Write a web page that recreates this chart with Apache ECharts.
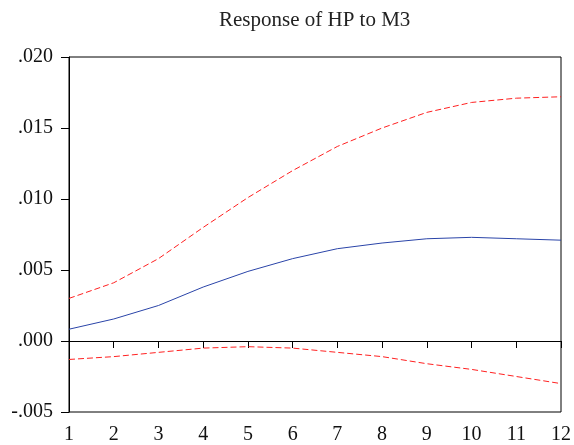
<!DOCTYPE html>
<html><head><meta charset="utf-8">
<script src="https://cdn.jsdelivr.net/npm/echarts@6/dist/echarts.min.js"></script>
<style>html,body{margin:0;padding:0;background:#fff}#c{width:574px;height:445px}</style>
</head><body><div id="c"></div>
<script>
const periods = ['1','2','3','4','5','6','7','8','9','10','11','12'];
const response = [0.00083,0.00155,0.0025,0.0038,0.0049,0.0058,0.0065,0.0069,0.0072,0.0073,0.0072,0.0071];
const upperBand = [0.0030,0.0041,0.0058,0.0080,0.0101,0.0120,0.0137,0.0150,0.0161,0.0168,0.0171,0.0172];
const lowerBand = [-0.0013,-0.0011,-0.0008,-0.0005,-0.0004,-0.0005,-0.0008,-0.0011,-0.0016,-0.0020,-0.0025,-0.0030];
const fmt = v => { const s = Math.abs(v).toFixed(3).replace(/^0/, ''); return (v < -1e-9 ? '-' : '') + s; };
const font = '"Liberation Serif", "Times New Roman", serif';
const chart = echarts.init(document.getElementById('c'), null, {renderer:'canvas'});
chart.setOption({
  animation:false,
  title:{text:'Response of HP to M3', left:214, top:5, textStyle:{fontFamily:font, fontSize:21, fontWeight:'normal', color:'#222'}},
  grid:{left:69, right:10, top:57, bottom:33, show:true, borderColor:'#000', borderWidth:1, backgroundColor:'transparent'},
  xAxis:{type:'category', data:periods, boundaryGap:false,
    axisLine:{lineStyle:{color:'#000', width:1}},
    axisTick:{show:true, inside:false, length:7, lineStyle:{color:'#000'}},
    axisLabel:{fontFamily:font, fontSize:20, color:'#111', margin:13},
    splitLine:{show:false}},
  yAxis:{type:'value', min:-0.005, max:0.020, interval:0.005,
    axisLine:{show:true, lineStyle:{color:'#000', width:1}},
    axisTick:{show:true, length:8, lineStyle:{color:'#000'}},
    axisLabel:{fontFamily:font, fontSize:20, color:'#111', margin:16, formatter:fmt},
    splitLine:{show:false}},
  series:[
    {type:'line', data:upperBand, symbol:'none', lineStyle:{color:'#ff2020', width:1, type:[6,3]},
      markLine:{silent:true, symbol:'none', label:{show:false}, lineStyle:{color:'#000', width:1, type:'solid'}, data:[{yAxis:0}]}},
    {type:'line', data:response, symbol:'none', lineStyle:{color:'#2a44a8', width:1, type:'solid'}},
    {type:'line', data:lowerBand, symbol:'none', lineStyle:{color:'#ff2020', width:1, type:[6,3]}}
  ]
});
</script></body></html>
